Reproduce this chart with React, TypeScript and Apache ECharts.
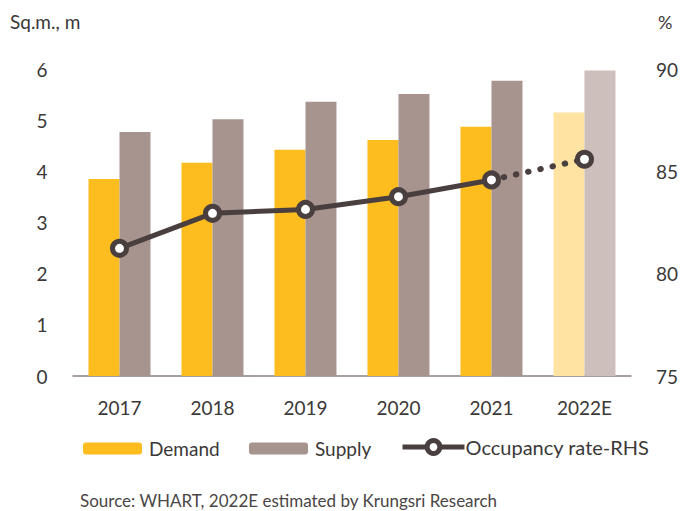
import React, { useEffect, useRef } from "react";
import * as echarts from "echarts";

const categories = ["2017", "2018", "2019", "2020", "2021", "2022E"];
const demand = [3.85, 4.17, 4.42, 4.61, 4.87, 5.15];
const supply = [4.77, 5.02, 5.36, 5.51, 5.77, 5.97];
const occupancyActual = [81.24, 82.95, 83.14, 83.76, 84.58, null];
const occupancyEstimate = [null, null, null, null, 84.58, 85.59];
const leftTicks = { min: 0, max: 6, interval: 1 };
const rightTicks = { min: 75, max: 90, interval: 5 };

const FONT = "Lato";
const TEXT = "#3b3838";
const DEMAND = "#FDBD1E";
const SUPPLY = "#A8948F";
const DEMAND_E = "#FEE3A2";
const SUPPLY_E = "#CDBFBC";
const LINE = "#4A3F3F";

export default function App() {
  const ref = useRef<HTMLDivElement>(null);
  useEffect(() => {
    if (!ref.current) return;
    const chart = echarts.init(ref.current, undefined, { renderer: "svg" });
    const last = categories.length - 1;
    chart.setOption({
      animation: false,
      backgroundColor: "#ffffff",
      textStyle: { fontFamily: FONT },
      grid: { left: 73, right: 50, top: 69, bottom: 135, containLabel: false },
      xAxis: {
        type: "category",
        data: categories,
        axisTick: { show: false },
        axisLine: { show: true, lineStyle: { color: "#8c8080", width: 1.5 } },
        axisLabel: { color: TEXT, fontSize: 19, fontFamily: FONT, margin: 22 },
      },
      yAxis: [
        {
          type: "value",
          ...leftTicks,
          splitLine: { show: false },
          axisLine: { show: false },
          axisTick: { show: false },
          axisLabel: { color: TEXT, fontSize: 19, fontFamily: FONT, margin: 31, align: "center" },
        },
        {
          type: "value",
          ...rightTicks,
          splitLine: { show: false },
          axisLine: { show: false },
          axisTick: { show: false },
          axisLabel: { color: TEXT, fontSize: 19, fontFamily: FONT, margin: 25 },
        },
      ],
      legend: [
        {
          data: ["Demand"],
          left: 78,
          top: 434,
          itemWidth: 59,
          itemHeight: 12,
          textStyle: { color: TEXT, fontSize: 19, fontFamily: FONT, padding: [0, 0, 0, 2] },
        },
        {
          data: ["Supply"],
          left: 244,
          top: 434,
          itemWidth: 59,
          itemHeight: 12,
          textStyle: { color: TEXT, fontSize: 19, fontFamily: FONT, padding: [0, 0, 0, 2] },
        },
        {
          data: ["Occupancy rate-RHS"],
          left: 395,
          top: 432,
          itemWidth: 62,
          itemHeight: 16,
          itemStyle: { color: "#ffffff", borderColor: LINE, borderWidth: 5 },
          lineStyle: { color: LINE, width: 5 },
          textStyle: { color: TEXT, fontSize: 20, fontFamily: FONT, padding: [0, 0, 0, -4] },
        },
      ],
      graphic: [
        {
          type: "text",
          left: 10,
          top: 12,
          style: { text: "Sq.m., m", fill: TEXT, fontSize: 19, fontFamily: FONT },
        },
        {
          type: "text",
          left: 658,
          top: 13,
          style: { text: "%", fill: TEXT, fontSize: 18, fontFamily: FONT },
        },
        {
          type: "text",
          left: 80,
          top: 492,
          style: {
            text: "Source: WHART, 2022E estimated by Krungsri Research",
            fill: "#4a4646",
            fontSize: 17,
            fontFamily: FONT,
          },
        },
      ],
      series: [
        {
          name: "Demand",
          type: "bar",
          yAxisIndex: 0,
          barWidth: 31,
          barGap: "0%",
          itemStyle: { color: DEMAND },
          data: demand.map((v, i) => (i === last ? { value: v, itemStyle: { color: DEMAND_E } } : v)),
        },
        {
          name: "Supply",
          type: "bar",
          yAxisIndex: 0,
          barWidth: 31,
          barGap: "0%",
          itemStyle: { color: SUPPLY },
          data: supply.map((v, i) => (i === last ? { value: v, itemStyle: { color: SUPPLY_E } } : v)),
        },
        {
          name: "Occupancy estimate",
          type: "line",
          yAxisIndex: 1,
          z: 3,
          symbol: "circle",
          symbolSize: (_v: any, p: any) => (p.dataIndex === last ? 14 : 0),
          showSymbol: true,
          itemStyle: { color: "#ffffff", borderColor: LINE, borderWidth: 5 },
          lineStyle: { color: LINE, width: 6, type: [0.5, 12], cap: "round" },
          data: occupancyEstimate,
        },
        {
          name: "Occupancy rate-RHS",
          type: "line",
          yAxisIndex: 1,
          z: 4,
          symbol: "circle",
          symbolSize: 14,
          connectNulls: false,
          itemStyle: { color: "#ffffff", borderColor: LINE, borderWidth: 5 },
          lineStyle: { color: LINE, width: 5 },
          data: occupancyActual,
        },
      ],
    });
    return () => chart.dispose();
  }, []);
  return <div ref={ref} style={{ position: "fixed", left: 0, top: 0, width: 681, height: 511 }} />;
}
